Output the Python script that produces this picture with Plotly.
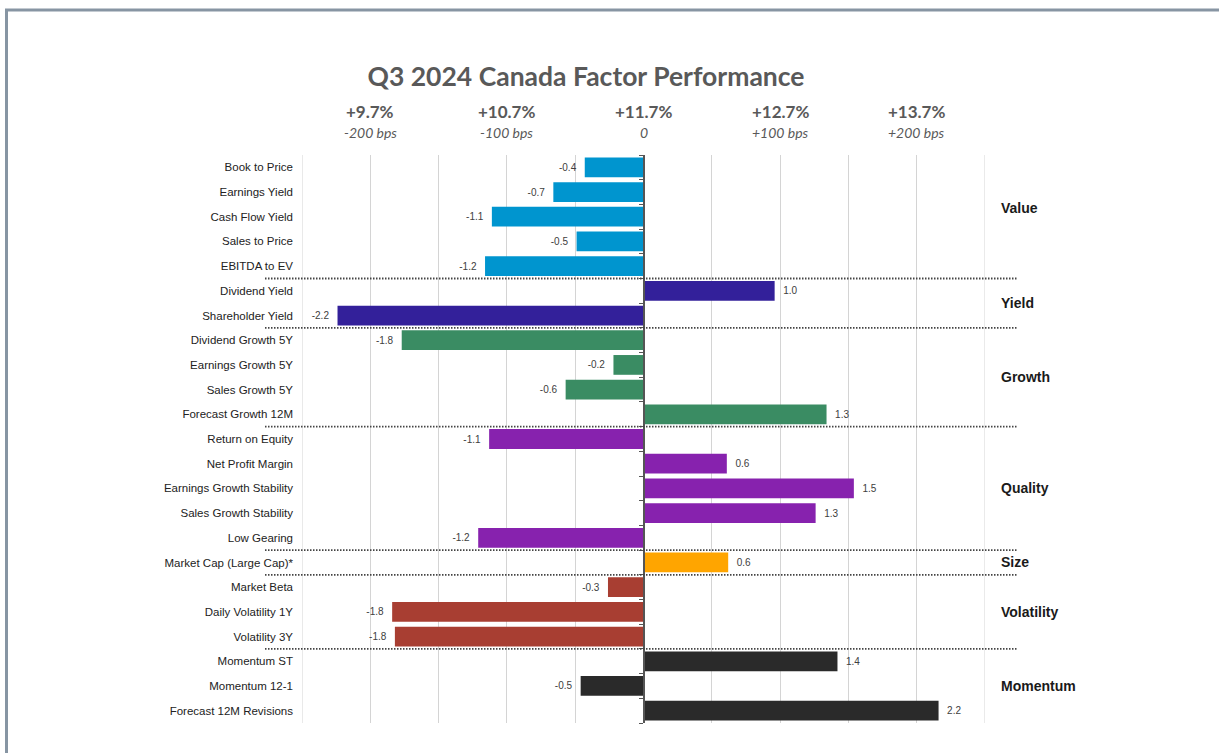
import plotly.graph_objects as go

# ---------------- data ----------------
categories = [
    "Book to Price", "Earnings Yield", "Cash Flow Yield", "Sales to Price", "EBITDA to EV",
    "Dividend Yield", "Shareholder Yield",
    "Dividend Growth 5Y", "Earnings Growth 5Y", "Sales Growth 5Y", "Forecast Growth 12M",
    "Return on Equity", "Net Profit Margin", "Earnings Growth Stability", "Sales Growth Stability", "Low Gearing",
    "Market Cap (Large Cap)*",
    "Market Beta", "Daily Volatility 1Y", "Volatility 3Y",
    "Momentum ST", "Momentum 12-1", "Forecast 12M Revisions",
]
values = [
    -0.43, -0.66, -1.11, -0.49, -1.16,
    0.96, -2.24,
    -1.77, -0.22, -0.57, 1.34,
    -1.13, 0.61, 1.54, 1.26, -1.21,
    0.62,
    -0.26, -1.84, -1.82,
    1.42, -0.46, 2.16,
]
groups = ["Value", "Yield", "Growth", "Quality", "Size", "Volatility", "Momentum"]
group_sizes = [5, 2, 4, 5, 1, 3, 3]
group_colors = ["#0095CF", "#33209A", "#3A8C63", "#8722AE", "#FFA500", "#A83E32", "#2A2A2A"]

top_tick_vals = [-2, -1, 0, 1, 2]
top_tick_pct = ["+9.7%", "+10.7%", "+11.7%", "+12.7%", "+13.7%"]
top_tick_bps = ["-200 bps", "-100 bps", "0", "+100 bps", "+200 bps"]

title = "Q3 2024 Canada Factor Performance"

# ---------------- layout helpers ----------------
W, H = 1219, 753
PL, PR, PT, PB = 302, 985, 155, 723  # plot area in pixels
X_MIN, X_MAX = -2.5, 2.5


def px_x(p):
    return (p - PL) / (PR - PL)


def px_y(p):
    return (PB - p) / (PB - PT)


bar_colors = []
for g, n in enumerate(group_sizes):
    bar_colors += [group_colors[g]] * n

NB = "\u00a0"
labels = [(f"{v:.1f}{NB}{NB}" if v < 0 else f"{NB}{NB}{v:.1f}") for v in values]

fig = go.Figure()
fig.add_trace(go.Bar(
    x=values, y=categories, orientation="h",
    marker=dict(color=bar_colors, line=dict(width=0)),
    text=labels,
    textposition="outside",
    textfont=dict(family="Liberation Sans, Arial", size=10, color="#404040"),
    cliponaxis=False,
    hoverinfo="skip",
))
# invisible trace to host the zero axis with boundary ticks
n = len(categories)
fig.add_trace(go.Scatter(x=[0], y=[0], yaxis="y2", mode="markers",
                         marker=dict(opacity=0), hoverinfo="skip", showlegend=False))

shapes = []
annotations = []

# edge grid lines
for xv in (X_MIN, X_MAX):
    shapes.append(dict(type="line", xref="x", yref="paper", x0=xv, x1=xv, y0=0, y1=1,
                       layer="below", line=dict(color="#d4d4d4", width=1)))

# group separators and labels
start = 0
for g, size in enumerate(group_sizes):
    end = start + size
    if end < n:
        shapes.append(dict(type="line", xref="paper", yref="y",
                           x0=px_x(265), x1=px_x(1017), y0=end - 0.5, y1=end - 0.5,
                           line=dict(color="#444444", width=1.8, dash="1.5px,1.5px")))
    center = (start + end - 1) / 2
    annotations.append(dict(
        text=f"<b>{groups[g]}</b>", xref="paper", yref="y", x=px_x(999), y=center,
        xanchor="left", yanchor="middle", showarrow=False,
        yshift=9 if g == 0 else 0,
        font=dict(family="Liberation Sans, Arial", size=14, color="#1a1a1a")))
    start = end

# top labels
for i, xv in enumerate(top_tick_vals):
    annotations.append(dict(text=f"<b>{top_tick_pct[i]}</b>", xref="x", yref="paper",
                            x=xv, y=px_y(111), showarrow=False, yanchor="middle",
                            font=dict(family="Lato", size=17, color="#595959")))
    annotations.append(dict(text=f"<i>{top_tick_bps[i]}</i>", xref="x", yref="paper",
                            x=xv, y=px_y(133), showarrow=False, yanchor="middle",
                            font=dict(family="Lato", size=14, color="#595959")))

# outer frame (top and left edges)
frame_color = "#8795a3"
shapes.append(dict(type="line", xref="paper", yref="paper",
                   x0=px_x(5), x1=px_x(W + 5), y0=px_y(10), y1=px_y(10),
                   line=dict(color=frame_color, width=3)))
shapes.append(dict(type="line", xref="paper", yref="paper",
                   x0=px_x(6.5), x1=px_x(6.5), y0=px_y(10), y1=px_y(H + 5),
                   line=dict(color=frame_color, width=3)))

fig.update_layout(
    width=W, height=H,
    margin=dict(l=PL, r=W - PR, t=PT, b=H - PB),
    paper_bgcolor="white", plot_bgcolor="white",
    showlegend=False,
    bargap=0.2,
    title=dict(text=f"<b>{title}</b>", x=586 / W, xanchor="center",
               y=1 - 77 / H, yanchor="middle", yref="container",
               font=dict(family="Lato", size=26.5, color="#595959")),
    xaxis=dict(range=[X_MIN, X_MAX], dtick=0.5, tick0=0, showticklabels=False,
               showgrid=True, gridcolor="#d4d4d4", gridwidth=1, zeroline=False,
               ticks="", showline=False, fixedrange=True),
    yaxis=dict(categoryorder="array", categoryarray=categories, autorange="reversed",
               showgrid=False, zeroline=False, ticks="", showline=False,
               ticklabelstandoff=8,
               tickfont=dict(family="Liberation Sans, Arial", size=11.5, color="#222222")),
    yaxis2=dict(overlaying="y", anchor="free", position=0.5, side="left",
                range=[n - 0.5, -0.5], tickmode="array",
                tickvals=[i - 0.5 for i in range(n + 1)],
                ticks="outside", ticklen=4, tickcolor="#555555", tickwidth=1,
                showline=True, linecolor="#555555", linewidth=1.5,
                showticklabels=False, showgrid=False, zeroline=False),
    shapes=shapes,
    annotations=annotations,
)

fig.write_html("out.html", config={"displayModeBar": False},
               post_script="document.body.style.margin='0';document.body.style.overflow='hidden';")
